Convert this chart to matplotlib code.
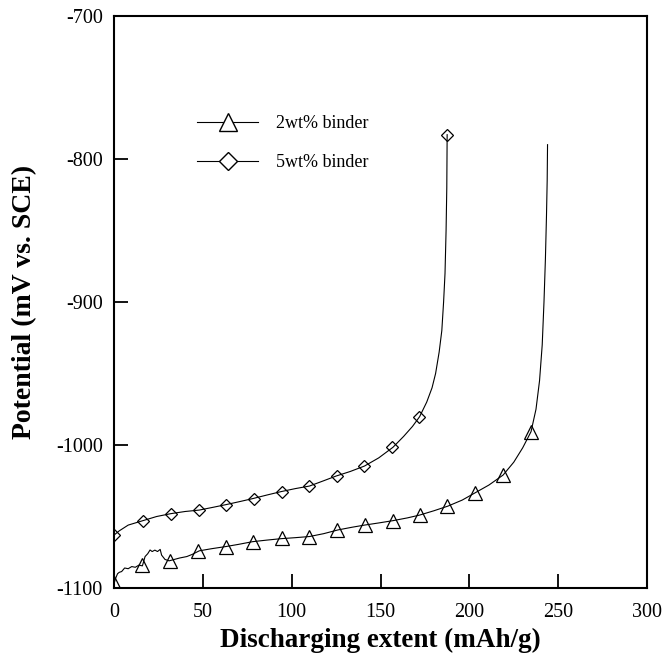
import matplotlib.pyplot as plt
from matplotlib.lines import Line2D

plt.rcParams['font.family'] = ['Liberation Serif', 'DejaVu Serif']
plt.rcParams['axes.unicode_minus'] = False

# 2wt% binder: discharge curve (mAh/g, mV vs. SCE)
x2 = [0, 1, 2, 3, 4.3, 6, 8, 10, 12, 14, 16, 17.5, 19, 20.3, 21.5, 23, 24.5, 26, 26.8, 28.7,
      31, 34, 37, 41, 44, 48, 55, 63, 70, 78, 86, 94, 102, 110, 118, 126, 134, 141,
      149, 157, 165, 172, 180, 188, 196, 203, 211, 219, 225, 230, 234.7, 237.5,
      239.5, 241, 242, 242.8, 243.4, 243.8, 244]
y2 = [-1097, -1093, -1090, -1089, -1088.5, -1086, -1086.5, -1085, -1085.5, -1084, -1084.5,
      -1078, -1076, -1073.4, -1074.5, -1073.5, -1074.5, -1073, -1077, -1080,
      -1081, -1080, -1079, -1078, -1076.5, -1074, -1072.5, -1071, -1069.5, -1067.6,
      -1066.5, -1065.5, -1064.8, -1064, -1062, -1059.4, -1057.5, -1056, -1054.5,
      -1052.9, -1051, -1049, -1046, -1042.7, -1038.5, -1033.6, -1028, -1021, -1012,
      -1002, -990.7, -975, -955, -930, -900, -870, -840, -815, -790]
mk2_x = [0, 15.8, 31.6, 47.4, 63, 78.4, 94.4, 110, 125.7, 141.3, 156.8, 172.2,
         187.6, 203.2, 219, 234.7]
mk2_y = [-1096.5, -1084, -1081, -1074, -1071, -1067.6, -1065, -1064, -1059.4,
         -1056, -1052.9, -1049, -1042.7, -1033.6, -1021, -990.7]

# 5wt% binder
x5 = [0, 3, 8, 16, 24, 32, 40, 48, 56, 63, 71, 78, 86, 94, 102, 110, 118, 125, 133,
      141, 149, 157, 163, 168, 172, 176, 179, 181, 183, 184.5, 185.5, 186.3, 186.9,
      187.3, 187.5]
y5 = [-1063, -1060, -1056, -1053, -1050, -1048, -1046.5, -1045.5, -1043.5, -1041.7,
      -1039.5, -1037.5, -1035, -1032.6, -1030.5, -1028.7, -1025, -1021.7, -1018.5,
      -1014.7, -1009, -1001.6, -994, -987, -980.2, -970, -960, -950, -935, -920,
      -900, -880, -850, -820, -783]
mk5_x = [0, 16.5, 31.9, 47.8, 63, 78.6, 94.4, 110, 125.3, 140.9, 156.6, 171.8, 187.5]
mk5_y = [-1063, -1053, -1048, -1045.5, -1041.7, -1037.5, -1032.6, -1028.7, -1021.7,
         -1014.7, -1001.6, -980.2, -783]

fig = plt.figure(figsize=(6.65, 6.63), dpi=100)
ax = fig.add_axes([0.1714, 0.1131, 0.8016, 0.8628])

ax.plot(x2, y2, color='black', lw=0.8)
ax.plot(mk2_x, mk2_y, ls='none', marker='^', ms=10, mfc='none', mec='black', mew=0.9)
ax.plot(x5, y5, color='black', lw=0.8)
ax.plot(mk5_x, mk5_y, ls='none', marker='D', ms=6.4, mfc='none', mec='black', mew=0.9)

ax.set_xlim(0, 300)
ax.set_ylim(-1100, -700)
ax.set_xticks(range(0, 301, 50))
ax.set_yticks(range(-1100, -699, 100))
ax.tick_params(direction='in', length=10, width=1.3, labelsize=14.5)
ax.tick_params(axis='x', pad=11)
ax.tick_params(axis='y', pad=8)
for s in ax.spines.values():
    s.set_linewidth(1.5)

ax.set_xlabel('Discharging extent (mAh/g)', fontsize=19.5, fontweight='bold')
ax.set_ylabel('Potential (mV vs. SCE)', fontsize=20, fontweight='bold')
ax.xaxis.set_label_coords(0.5, -0.07)
ax.yaxis.set_label_coords(-0.145, 0.5)

handles = [
    Line2D([], [], color='black', lw=0.8, marker='^', ms=13, mfc='white', mec='black', mew=1),
    Line2D([], [], color='black', lw=0.8, marker='D', ms=9, mfc='white', mec='black', mew=1),
]
ax.legend(handles, ['2wt% binder', '5wt% binder'], frameon=False, fontsize=13,
          handlelength=3.4, labelspacing=1.2, handletextpad=1.0, numpoints=1,
          loc='upper left', bbox_to_anchor=(0.125, 0.855))

fig.savefig('out.png', dpi=100)
